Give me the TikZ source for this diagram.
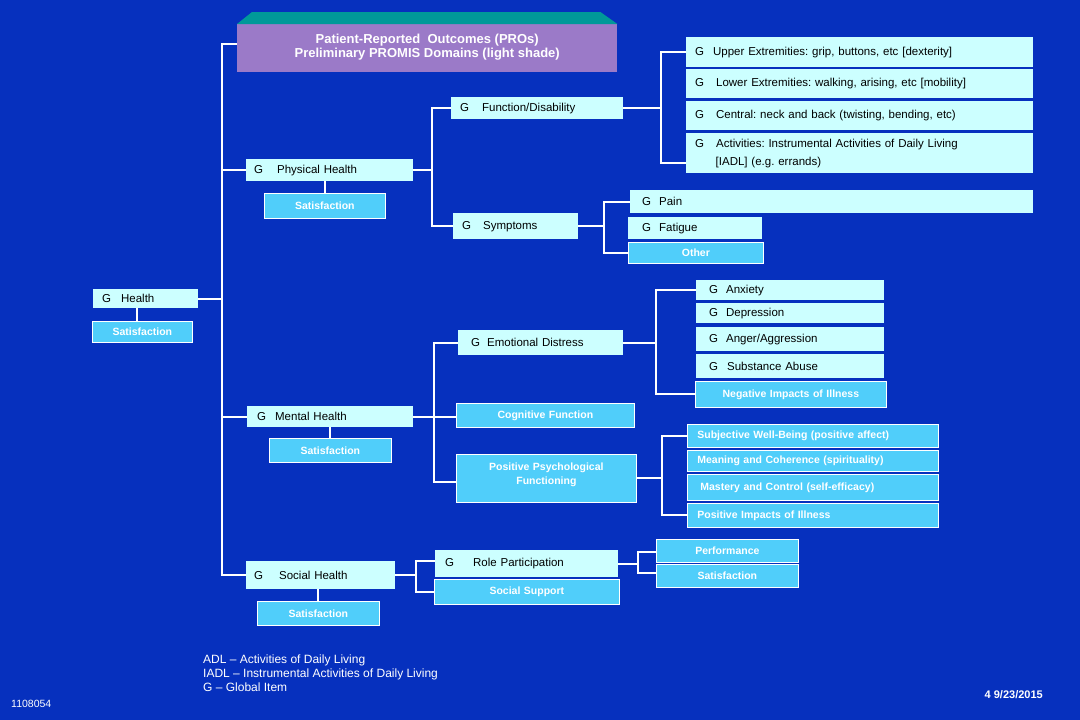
\documentclass[tikz,border=0pt]{standalone}
\usepackage{tikz}
\usepackage{fontspec}
\setmainfont{Liberation Sans}
\definecolor{bgc}{RGB}{6,48,190}
\definecolor{lightc}{RGB}{204,255,255}
\definecolor{medc}{RGB}{80,206,250}
\definecolor{titlec}{RGB}{155,122,200}
\definecolor{tealc}{RGB}{0,153,153}
\newcommand\Gap[1]{G\hspace{#1pt}}
\newcommand\bx[8]{\node[#1,anchor=north west,inner xsep=#7pt,minimum width={(#5)-(#3)},minimum height={(#6)-(#4)},text width={(#5)-(#3)-2*(#7)}] (#2) at (#3,#4) {#8};}
\begin{document}
\frenchspacing
\begin{tikzpicture}[x=1pt,y=-1pt,
  conn/.style={draw=white,line width=2pt},
  lt/.style={fill=lightc,text=black,font=\frenchspacing\fontsize{11.5}{13}\selectfont,inner ysep=0pt,align=left},
  md/.style={fill=medc,draw=white,line width=0.8pt,text=white,font=\frenchspacing\bfseries\fontsize{10.5}{13.5}\selectfont,inner ysep=0pt},
  mdc/.style={md,align=center},
  mdl/.style={md,align=left},
  note/.style={text=white,inner sep=0pt}]
\fill[bgc] (0,0) rectangle (1080,720);
\useasboundingbox (0,0) rectangle (1080,720);

% title
\node[fill=titlec,anchor=north west,minimum width=380,minimum height=48,inner sep=0pt,align=center,text=white,font=\frenchspacing\bfseries\fontsize{13}{14}\selectfont] (title) at (237,24) {Patient-Reported\ \ Outcomes (PROs)\\Preliminary PROMIS Domains (light shade)\\[-10pt]\mbox{}};
\fill[tealc] (title.north west) -- ([xshift=15pt,yshift=12pt]title.north west) -- ([xshift=-17pt,yshift=12pt]title.north east) -- (title.north east) -- cycle;

% level 1
\bx{lt}{health}{93}{289}{198}{308}{9}{\Gap{10}Health}
\bx{mdc}{hsat}{92}{321}{192}{342}{3}{Satisfaction}
% level 2
\bx{lt}{physical}{246}{159}{413}{181}{8}{\Gap{14}Physical Health}
\bx{mdc}{psat}{264}{193}{385}{218}{3}{Satisfaction}
\bx{lt}{mental}{247}{406}{413}{427}{10}{\Gap{9}Mental Health}
\bx{mdc}{msat}{269}{438}{391}{462}{3}{Satisfaction}
\bx{lt}{social}{246}{561}{395}{589}{8}{\Gap{16}Social Health}
\bx{mdc}{ssat}{257}{601}{379}{625}{3}{Satisfaction}
% physical branch
\bx{lt}{function}{451}{97}{623}{119}{9}{\Gap{13}Function/Disability}
\bx{lt}{symptoms}{453}{213}{578}{239}{9}{\Gap{12}Symptoms}
\bx{lt}{upper}{686}{37}{1033}{67}{9}{\Gap{9}Upper Extremities: grip, buttons, etc [dexterity]}
\bx{lt}{lower}{686}{69}{1033}{98}{9}{\Gap{12}Lower Extremities: walking, arising, etc [mobility]}
\bx{lt}{central}{686}{101}{1033}{130}{9}{\Gap{12}Central: neck and back (twisting, bending, etc)}
\bx{lt}{activities}{686}{133}{1033}{173}{9}{\Gap{12}Activities: Instrumental Activities of Daily Living\\[5pt]\hspace*{20.5pt}[IADL] (e.g. errands)}
\bx{lt}{pain}{630}{190}{1033}{213}{12}{\Gap{8}Pain}
\bx{lt}{fatigue}{628}{217}{762}{239}{14}{\Gap{8}Fatigue}
\bx{mdc}{other}{628}{242}{763}{263}{3}{Other}
% mental branch
\bx{lt}{emotional}{458}{330}{623}{355}{13}{\Gap{7}Emotional Distress}
\bx{mdc}{cognitive}{456}{403}{634}{427}{3}{Cognitive Function}
\bx{mdc}{ppf}{456}{454}{636}{502}{3}{Positive Psychological\\Functioning\\[-4pt]\mbox{}}
\bx{lt}{anxiety}{696}{280}{884}{300}{13}{\Gap{8}Anxiety}
\bx{lt}{depression}{696}{303}{884}{323}{13}{\Gap{8}Depression}
\bx{lt}{anger}{696}{327}{884}{351}{13}{\Gap{8}Anger/Aggression}
\bx{lt}{substance}{696}{354}{884}{378}{13}{\Gap{9}Substance Abuse}
\bx{mdc}{negative}{695}{381}{886}{407}{3}{Negative Impacts of Illness}
\bx{mdl}{subjective}{687}{424}{938}{447}{10}{Subjective Well-Being (positive affect)}
\bx{mdl}{meaning}{687}{450}{938}{471}{10}{Meaning and Coherence (spirituality)}
\bx{mdl}{mastery}{687}{474}{938}{500}{13}{Mastery and Control (self-efficacy)}
\bx{mdl}{posimp}{687}{503}{938}{527}{10}{Positive Impacts of Illness}
% social branch
\bx{lt}{rolep}{435}{550}{618}{577}{10}{\Gap{19}Role Participation}
\bx{mdc}{socsup}{434}{579}{619}{604}{3}{Social Support}
\bx{mdc}{perf}{656}{539}{798}{562}{3}{Performance}
\bx{mdc}{rsat}{656}{564}{798}{587}{3}{Satisfaction}

% connectors: trunk
\coordinate (t0) at ([xshift=-15pt,yshift=4pt]title.west);
\draw[conn] ([yshift=4pt]title.west) -- (t0) -- (t0 |- social.west) -- (social.west);
\draw[conn] (physical.west) -- (t0 |- physical.west);
\draw[conn] (mental.west) -- (t0 |- mental.west);
\draw[conn] (health.east) -- (t0 |- health.east);
% satisfaction links
\draw[conn] ([xshift=-5pt]hsat.north) -- ([xshift=-5pt]hsat.north |- health.south);
\draw[conn] (psat.north) -- (psat.north |- physical.south);
\draw[conn] (msat.north) -- (msat.north |- mental.south);
\draw[conn] (ssat.north) -- (ssat.north |- social.south);
% physical
\coordinate (p1) at ([xshift=19pt]physical.east);
\draw[conn] (physical.east) -- (p1);
\draw[conn] (function.west) -| (p1) |- (symptoms.west);
\coordinate (f1) at ([xshift=38pt]function.east);
\draw[conn] (function.east) -- (f1);
\draw[conn] (upper.west) -| (f1) |- ([yshift=-10pt]activities.west);
\coordinate (s1) at ([xshift=26pt]symptoms.east);
\draw[conn] (symptoms.east) -- (s1);
\draw[conn] (pain.west) -| (s1) |- (other.west);
% mental
\coordinate (m1) at ([xshift=21pt]mental.east);
\draw[conn] (mental.east) -- (mental.east -| cognitive.west);
\draw[conn] (emotional.west) -| (m1) |- ([yshift=-4pt]ppf.west);
\coordinate (e1) at ([xshift=33pt]emotional.east);
\draw[conn] (emotional.east) -- (e1);
\draw[conn] (anxiety.west) -| (e1) |- (negative.west);
\coordinate (q1) at ([xshift=25pt]ppf.east);
\draw[conn] (ppf.east) -- (q1);
\draw[conn] (subjective.west) -| (q1) |- (posimp.west);
% social
\coordinate (r1) at ([xshift=21pt]social.east);
\draw[conn] (social.east) -- (r1);
\draw[conn] ([yshift=3pt]rolep.west) -| (r1) |- (socsup.west);
\coordinate (r2) at ([xshift=20pt]rolep.east);
\draw[conn] (rolep.east) -- (r2);
\draw[conn] ([yshift=-1.5pt]perf.west) -| (r2) |- ([yshift=2.5pt]rsat.west);

% notes
\node[note,anchor=north west,align=left,font=\frenchspacing\fontsize{12}{14}\selectfont] (legend) at (203,655) {ADL – Activities of Daily Living\\IADL – Instrumental Activities of Daily Living\\G – Global Item};
\node[note,anchor=base west,font=\fontsize{10.5}{12}\selectfont] (code) at (11,707) {1108054};
\node[note,anchor=base east,font=\bfseries\fontsize{11}{12}\selectfont] (date) at (1043,698) {4 9/23/2015};
\end{tikzpicture}
\end{document}
